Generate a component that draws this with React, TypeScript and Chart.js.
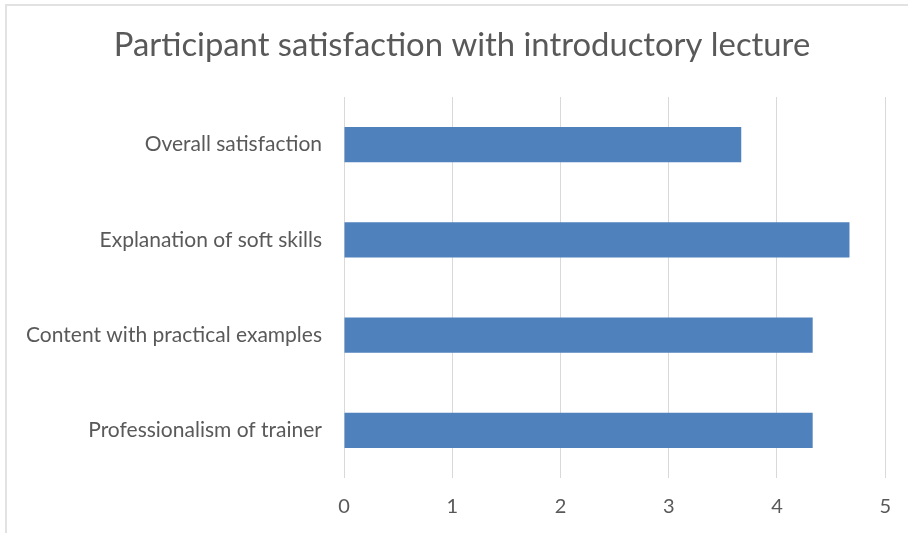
import React, { useEffect, useRef } from "react";
import { Chart, registerables } from "chart.js";

Chart.register(...registerables);

const TITLE = "Participant satisfaction with introductory lecture";
const categories = [
  "Overall satisfaction",
  "Explanation of soft skills",
  "Content with practical examples",
  "Professionalism of trainer",
];
const scores = [3.67, 4.67, 4.33, 4.33];
const xTicks = [0, 1, 2, 3, 4, 5];

const FONT = "Lato, 'Open Sans', sans-serif";
const TEXT = "#595959";

const titlePlugin = {
  id: "centeredTitle",
  afterDraw(chart: any) {
    const ctx = chart.ctx;
    ctx.save();
    ctx.fillStyle = TEXT;
    ctx.font = `normal 32.8px ${FONT}`;
    ctx.textAlign = "center";
    ctx.textBaseline = "middle";
    ctx.fillText(TITLE, 462, 45);
    ctx.restore();
  },
};

export default function App() {
  const ref = useRef<HTMLCanvasElement | null>(null);
  useEffect(() => {
    if (!ref.current) return;
    const chart = new Chart(ref.current, {
      type: "bar",
      data: {
        labels: categories,
        datasets: [
          {
            data: scores,
            backgroundColor: "#4f81bd",
            borderWidth: 0,
            barPercentage: 0.37,
            categoryPercentage: 1,
          },
        ],
      },
      plugins: [titlePlugin],
      options: {
        indexAxis: "y",
        animation: false,
        responsive: false,
        layout: { padding: { left: 0, right: 22, top: 97, bottom: 0 } },
        plugins: {
          legend: { display: false },
          tooltip: { enabled: false },
          title: { display: false },
        },
        scales: {
          x: {
            min: 0,
            max: 5,
            afterBuildTicks: (s: any) => {
              s.ticks = xTicks.map((v) => ({ value: v }));
            },
            afterFit: (s: any) => {
              s.height = 55;
            },
            grid: { color: "#d9d9d9", lineWidth: 1, drawTicks: false },
            border: { display: false },
            ticks: {
              color: TEXT,
              padding: 17,
              font: { family: FONT, size: 20 },
            },
          },
          y: {
            afterFit: (s: any) => {
              s.width = 344;
            },
            grid: { display: false, drawTicks: false },
            border: { display: false },
            ticks: {
              color: TEXT,
              padding: 22,
              font: { family: FONT, size: 21 },
            },
          },
        },
      },
    });
    return () => chart.destroy();
  }, []);
  return (
    <div style={{ position: "absolute", left: 0, top: 0, width: 908, height: 533, background: "#fff" }}>
      <div
        style={{
          position: "absolute",
          left: 5,
          top: 4,
          right: 0,
          bottom: 0,
          borderTop: "2px solid #e2e2e2",
          borderLeft: "2px solid #e2e2e2",
        }}
      />
      <canvas ref={ref} width={908} height={533} style={{ position: "absolute", left: 0, top: 0 }} />
    </div>
  );
}
